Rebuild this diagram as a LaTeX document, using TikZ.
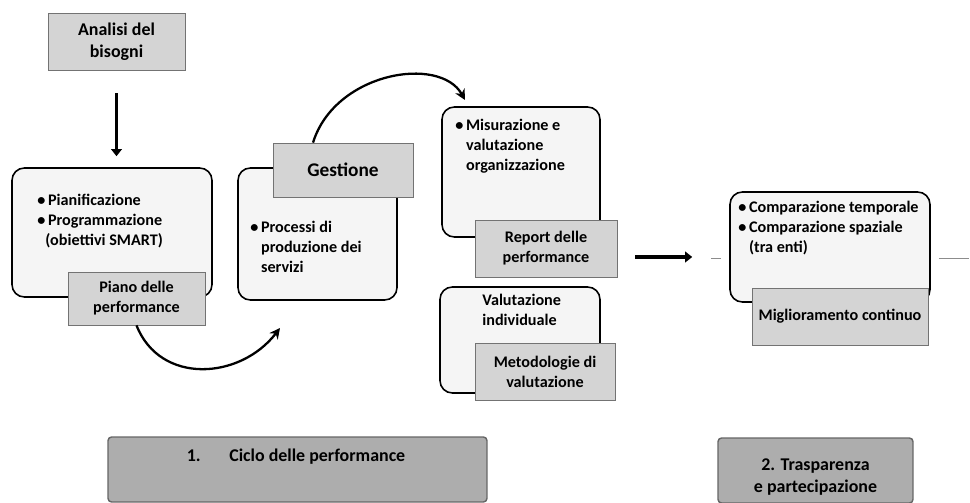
\documentclass[tikz,border=0pt]{standalone}
\usepackage{fontspec}
\setmainfont{Carlito}
\usetikzlibrary{arrows.meta}
\begin{document}
\begin{tikzpicture}
[x=0.02cm, y=-0.02cm,
every node/.style={font=\fontsize{9.2}{11.4}\selectfont\bfseries, inner sep=0pt},
panel/.style={draw, line width=0.9pt, rounded corners=7pt, fill=black!4},
tag/.style={draw=black!55, fill=black!17, align=center},
title/.style={draw=black!60, line width=0.8pt, fill=black!32, rounded corners=2pt},
big/.style={font=\fontsize{10.2}{12.4}\selectfont\bfseries},
body/.style={align=left, anchor=north west},
flow/.style={line width=2.2pt, -{Triangle[length=4pt,width=6pt]}},
loop/.style={line width=1.3pt, -{Stealth[length=6pt,width=6pt]}},
]
\useasboundingbox (0,0) rectangle (970,503);

\node[tag, big, minimum width=2.74cm, minimum height=1.14cm] (analisi) at (116.5,41.5) {Analisi del\\bisogni};
\node[panel, minimum width=4cm, minimum height=2.58cm] (plan) at (112,232.5) {};
\node[body] (plantxt) at (37,194) {\textbullet\,Pianificazione\\\textbullet\,Programmazione\\\phantom{\textbullet}(obiettivi SMART)};
\node[tag, minimum width=2.74cm, minimum height=1.06cm] (piano) at (136.5,298.5) {Piano delle\\performance};

\node[panel, minimum width=3.18cm, minimum height=2.64cm] (proc) at (317.5,234) {};
\node[tag, big, font=\fontsize{11}{13}\selectfont\bfseries, minimum width=2.8cm, minimum height=1.08cm] (gest) at (343,170) {Gestione};
\node[body] (proctxt) at (250,221) {\textbullet\,Processi di\\\phantom{\textbullet}\,produzione dei\\\phantom{\textbullet}\,servizi};

\node[panel, minimum width=3.16cm, minimum height=2.6cm] (mis) at (521,172) {};
\node[body] (mistxt) at (455,119) {\textbullet\,Misurazione e\\\phantom{\textbullet}\,valutazione\\\phantom{\textbullet}\,organizzazione};
\node[tag, minimum width=2.84cm, minimum height=1.14cm] (report) at (546,248.5) {Report delle\\performance};
\node[panel, minimum width=3.2cm, minimum height=2.12cm] (val) at (520,340) {};
\node[body] (valtxt) at (482,294) {Valutazione\\individuale};
\node[tag, minimum width=2.8cm, minimum height=1.14cm] (metod) at (545,371.5) {Metodologie di\\valutazione};

\node[panel, minimum width=4cm, minimum height=2.2cm] (comp) at (830,247) {};
\node[body] (comptxt) at (738,201) {\textbullet\,Comparazione temporale\\\textbullet\,Comparazione spaziale\\\phantom{\textbullet}\,(tra enti)};
\node[tag, minimum width=3.52cm, minimum height=1.14cm] (migl) at (840,316.5) {Miglioramento continuo};

\node[title, minimum width=7.58cm, minimum height=1.3cm] (ciclo) at (297.5,469.5) {};
\node[big] (ciclotxt) at (296,457) {1.\hspace{1.6em}Ciclo delle performance};
\node[title, minimum width=3.9cm, minimum height=1.3cm] (trasp) at (815.5,470.5) {};
\node[big, align=center] (trasptxt) at (815.5,477) {2. Trasparenza\\e partecipazione};

\draw[flow, shorten <=0.46cm, shorten >=0.22cm] (analisi.south) -- (analisi.south |- plan.north);
\coordinate (loopend) at (280,328);
\draw[loop] (piano.south) .. controls (160,385) and (240,380) .. (loopend);
\coordinate (arcend) at (465,100);
\draw[loop] ([xshift=-0.6cm]gest.north) .. controls (335,72) and (440,55) .. (arcend);
\draw[flow, shorten <=0.36cm, shorten >=0.74cm] ([yshift=-0.17cm]report.east) -- ([yshift=-0.17cm]report.east -| comp.west);
\draw[black!45, thin] ([xshift=-0.36cm, yshift=-0.22cm]comp.west) -- ++(0.2cm,0);
\draw[black!45, thin] ([xshift=0.16cm, yshift=-0.22cm]comp.east) -- ++(0.6cm,0);
\end{tikzpicture}
\end{document}
